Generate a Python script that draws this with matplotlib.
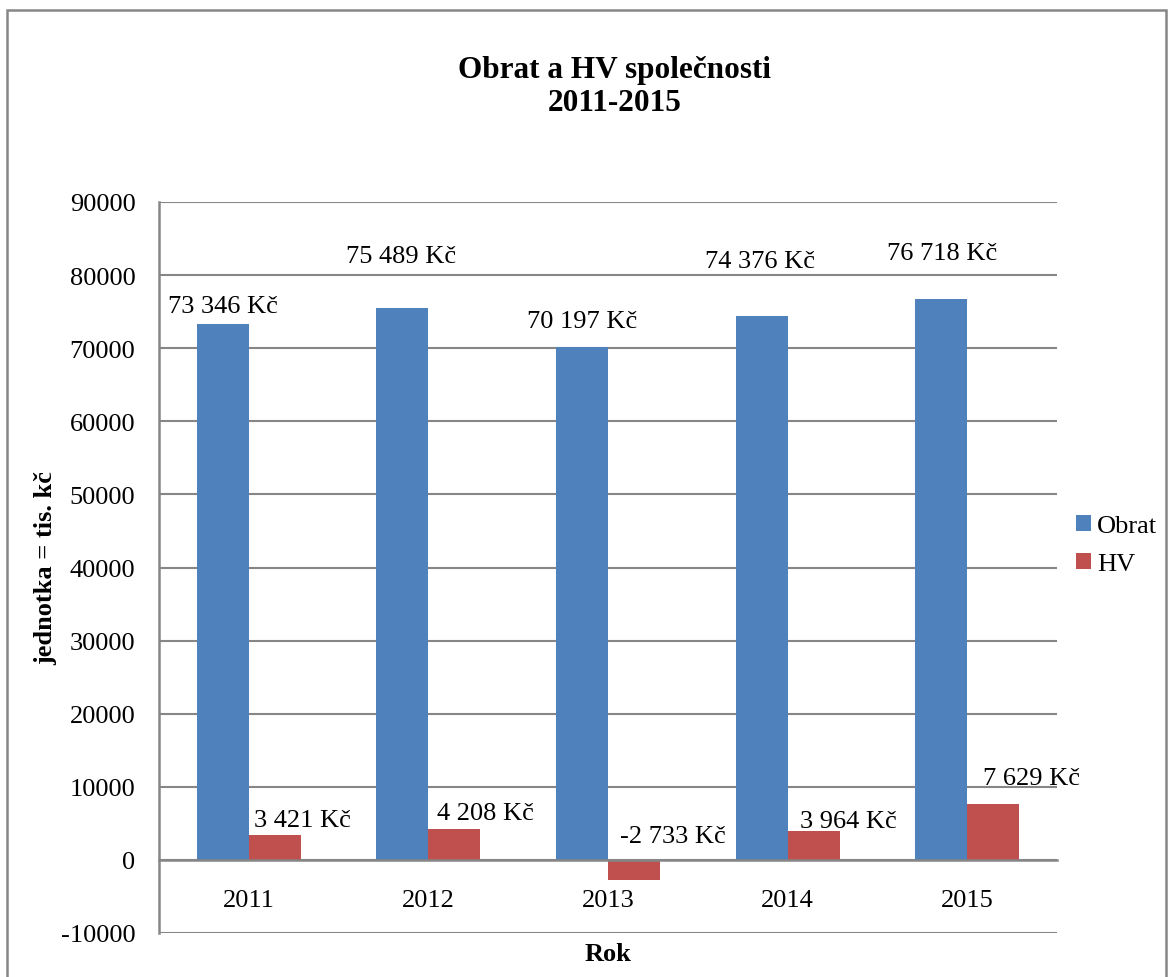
import matplotlib.pyplot as plt
from matplotlib.patches import Rectangle

years = ['2011', '2012', '2013', '2014', '2015']
obrat = [73346, 75489, 70197, 74376, 76718]
hv = [3421, 4208, -2733, 3964, 7629]

# label offsets in pixels (dx, dy), labels were dragged around by hand in the original
obrat_off = [(0, 18), (-1, 52), (0, 26), (-2, 55), (1, 46)]
hv_off = [(28, 15), (31, 16), (39, 24), (35, 10), (38, 26)]

def fmt(v):
    return f"{v:,}".replace(',', ' ') + ' Kč'

plt.rcParams['font.family'] = ['Liberation Serif', 'DejaVu Serif']
plt.rcParams['axes.unicode_minus'] = False
fs = 19
gray = '#868686'

fig = plt.figure(figsize=(11.7, 9.78), dpi=100)
ax = fig.add_axes([159/1170, 1 - 934/978, 898/1170, 731/978])

w = 0.29
x = list(range(len(years)))
b1 = ax.bar([i - w/2 for i in x], obrat, width=w, color='#4F81BD', label='Obrat', zorder=3)
b2 = ax.bar([i + w/2 for i in x], hv, width=w, color='#C0504D', label='HV', zorder=3)

for i in x:
    ax.annotate(fmt(obrat[i]), (i - w/2, obrat[i]), xytext=obrat_off[i],
                textcoords='offset pixels', ha='center', va='center', fontsize=fs, zorder=4)
    ax.annotate(fmt(hv[i]), (i + w/2, max(hv[i], 0)), xytext=hv_off[i],
                textcoords='offset pixels', ha='center', va='center', fontsize=fs, zorder=4)

ax.set_xlim(-0.5, 4.5)
ax.set_ylim(-10000, 90000)
ax.set_yticks(range(-10000, 90001, 10000))
ax.set_xticks(x)
ax.set_xticklabels(years)
ax.tick_params(axis='both', length=0, labelsize=fs)
ax.tick_params(axis='x', pad=21)
ax.tick_params(axis='y', pad=17)
ax.grid(axis='y', color=gray, linewidth=1.5, zorder=0)

for s in ['top', 'right']:
    ax.spines[s].set_visible(False)
ax.spines['bottom'].set_position(('data', 0))
ax.spines['bottom'].set_zorder(5)
for s in ['left', 'bottom']:
    ax.spines[s].set_color(gray)
    ax.spines[s].set_linewidth(1.8)

ax.set_ylabel('jednotka = tis. kč', fontsize=fs, fontweight='bold')
ax.yaxis.set_label_coords(-0.113, 0.5)
ax.set_xlabel('Rok', fontsize=fs, fontweight='bold')
ax.xaxis.set_label_coords(0.5, -0.012)

fig.legend(handles=[b1, b2], loc='center left', bbox_to_anchor=(1076/1170, 1 - 546/978),
           frameon=False, fontsize=fs, handlelength=0.55, handleheight=0.55,
           handletextpad=0.25, labelspacing=0.6, borderpad=0, borderaxespad=0)

fig.text(615/1170, 1 - 87/978, 'Obrat a HV společnosti\n2011-2015', ha='center', va='center',
         fontsize=22.5, fontweight='bold', linespacing=1.2)

# chart border
fig.patches.append(Rectangle((7/1170, -0.01), 1159/1170, 1 - 11/978 + 0.01,
                             transform=fig.transFigure, fill=False,
                             edgecolor=gray, linewidth=1.8))

fig.savefig('out.png', dpi=100)
